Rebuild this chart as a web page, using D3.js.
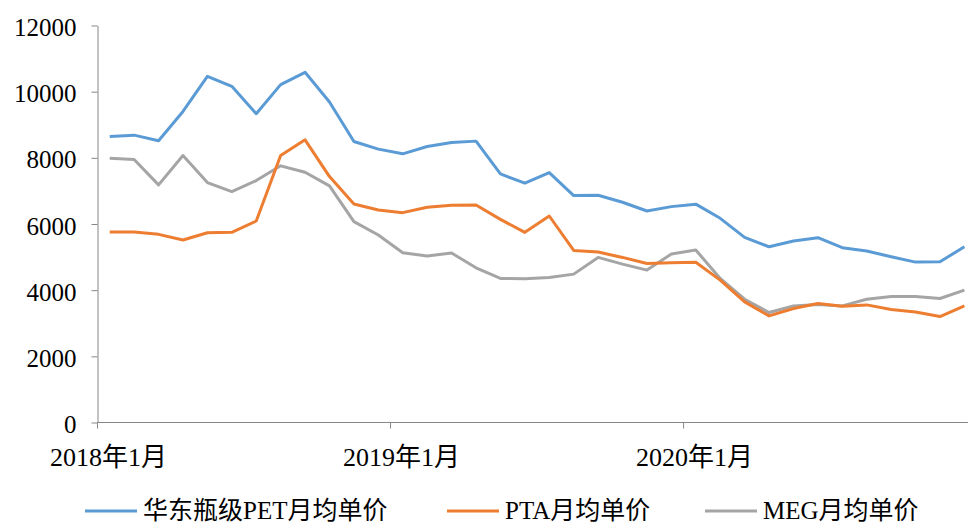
<!DOCTYPE html>
<html>
<head>
<meta charset="utf-8">
<script src="https://cdn.jsdelivr.net/npm/d3@7"></script>
<style>
  html, body { margin: 0; padding: 0; background: #fff; }
  svg { display: block; }
  text { font-family: "Liberation Serif", "Times New Roman", "Noto Sans CJK SC", serif; fill: #000; }
</style>
</head>
<body>
<svg id="chart" width="968" height="524"></svg>
<script>
// Monthly categories, Jan 2018 – Dec 2020
const months = [];
for (let y = 2018; y <= 2020; y++) for (let m = 1; m <= 12; m++) months.push(y + "年" + m + "月");

// 华东瓶级PET月均单价 (元/吨)
const petPrice = [8645, 8686, 8515, 9403, 10464, 10161, 9333, 10212, 10585, 9687, 8494, 8263,
                  8121, 8343, 8464, 8505, 7515, 7233, 7555, 6858, 6869, 6657, 6394, 6525,
                  6600, 6172, 5596, 5313, 5485, 5586, 5283, 5182, 5010, 4848, 4858, 5313];
// PTA月均单价
const ptaPrice = [5758, 5758, 5687, 5515, 5737, 5747, 6091, 8070, 8545, 7434, 6606, 6424,
                  6343, 6505, 6566, 6576, 6141, 5747, 6242, 5202, 5152, 4990, 4808, 4828,
                  4845, 4303, 3646, 3222, 3444, 3596, 3515, 3555, 3414, 3343, 3202, 3525];
// MEG月均单价
const megPrice = [7990, 7949, 7182, 8070, 7253, 6980, 7313, 7758, 7566, 7152, 6070, 5667,
                  5131, 5030, 5121, 4677, 4353, 4343, 4384, 4485, 4990, 4788, 4606, 5091,
                  5212, 4353, 3727, 3323, 3525, 3565, 3525, 3727, 3808, 3808, 3748, 4000];

const seriesNames = ["华东瓶级PET月均单价", "PTA月均单价", "MEG月均单价"];
const seriesColors = ["#5B9BD5", "#ED7D31", "#A5A5A5"];
const yTicks = [0, 2000, 4000, 6000, 8000, 10000, 12000];
const xTickLabels = ["2018年1月", "2019年1月", "2020年1月"];

const svg = d3.select("#chart");
const axisColor = "#878787";

const x0 = 97.5, step = 24.42;
const x = d3.scaleBand().domain(months).range([x0, x0 + step * months.length]).paddingInner(0).paddingOuter(0);
const y = d3.scaleLinear().domain([0, 12000]).range([422.5, 25.5]);
const cx = d => x(d) + x.bandwidth() / 2;

// Y axis
const yAxis = svg.append("g").attr("transform", `translate(${x0},0)`)
  .call(d3.axisLeft(y).tickValues(yTicks).tickSize(6).tickSizeOuter(0).tickFormat(d3.format("d")));
yAxis.select(".domain").attr("stroke", axisColor);
yAxis.selectAll(".tick line").attr("stroke", axisColor);
yAxis.selectAll(".tick text").attr("x", -21).attr("dy", "0.4em")
  .style("font-size", "25px").style("font-family", "'Liberation Serif', serif").attr("fill", "#000");

// X axis: ticks at the start of each year
const xAxis = svg.append("g").attr("transform", `translate(0,${y(0)})`);
xAxis.append("line").attr("x1", x0).attr("x2", 968 + 20).attr("stroke", axisColor);
xAxis.selectAll(".xt").data(xTickLabels).join("line")
  .attr("x1", d => x(d)).attr("x2", d => x(d)).attr("y1", 0).attr("y2", 6).attr("stroke", axisColor);
xAxis.selectAll(".xl").data(xTickLabels).join("text")
  .attr("x", d => x(d) + 11).attr("y", 43).attr("text-anchor", "middle")
  .style("font-size", "26px").text(d => d);

// Lines
const seriesData = [petPrice, ptaPrice, megPrice];
const line = d3.line().x((d, i) => cx(months[i])).y(d => y(d));
// draw MEG first, then PTA, then PET on top
[2, 1, 0].forEach(k => {
  svg.append("path").datum(seriesData[k])
    .attr("fill", "none").attr("stroke", seriesColors[k]).attr("stroke-width", 3)
    .attr("stroke-linejoin", "round").attr("stroke-linecap", "butt").attr("d", line);
});

// Legend
const legendX = [85, 447, 705];
const legend = svg.append("g");
seriesNames.forEach((name, k) => {
  const g = legend.append("g").attr("transform", `translate(${legendX[k]},511)`);
  g.append("line").attr("x1", 0).attr("x2", 52).attr("stroke", seriesColors[k]).attr("stroke-width", 3);
  g.append("text").attr("x", 58).attr("y", 8).style("font-size", "25px").text(name);
});
</script>
</body>
</html>
